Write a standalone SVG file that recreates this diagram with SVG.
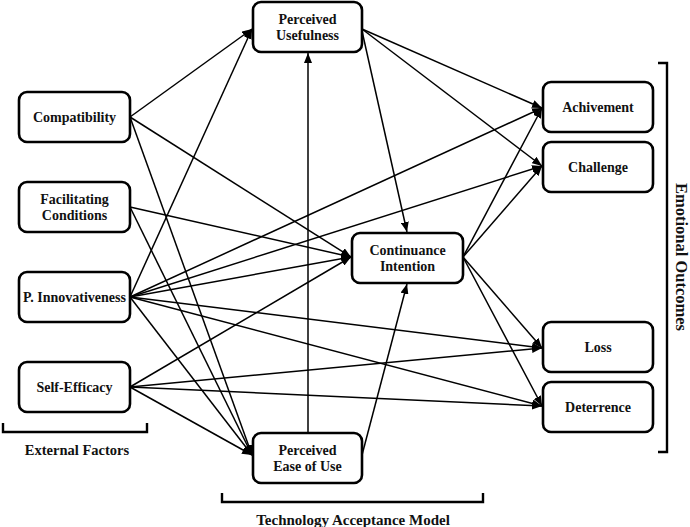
<svg xmlns="http://www.w3.org/2000/svg" width="690" height="527" viewBox="0 0 690 527">
<defs>
<style>
.box{fill:#fff;stroke:#000;stroke-width:2.6}
.t{font-family:"Liberation Serif","Times New Roman",serif;font-weight:bold;font-size:14px;text-anchor:middle;dominant-baseline:central;fill:#111}
.lbl{font-family:"Liberation Serif","Times New Roman",serif;font-weight:bold;font-size:14.5px;text-anchor:middle;dominant-baseline:central;fill:#111}
.e{stroke:#000;stroke-width:1.5;fill:none;marker-end:url(#ah)}
.br{stroke:#000;stroke-width:2.4;fill:none}
</style>
<marker id="ah" viewBox="0 0 10 8" refX="10" refY="4" markerWidth="10" markerHeight="8" markerUnits="userSpaceOnUse" orient="auto"><path d="M0,0 L10,4 L0,8 z" fill="#000"/></marker>
</defs>
<rect width="690" height="527" fill="#fff"/>
<g id="connectors">
<line class="e" x1="130" y1="117" x2="252" y2="29"/>
<line class="e" x1="130" y1="117" x2="351" y2="257"/>
<line class="e" x1="130" y1="117" x2="252" y2="455"/>
<line class="e" x1="130" y1="207" x2="351" y2="257"/>
<line class="e" x1="130" y1="207" x2="252" y2="455"/>
<line class="e" x1="130" y1="297" x2="252" y2="29"/>
<line class="e" x1="130" y1="297" x2="542" y2="108"/>
<line class="e" x1="130" y1="297" x2="542" y2="166"/>
<line class="e" x1="130" y1="297" x2="351" y2="257"/>
<line class="e" x1="130" y1="297" x2="542" y2="348"/>
<line class="e" x1="130" y1="297" x2="542" y2="406"/>
<line class="e" x1="130" y1="297" x2="252" y2="455"/>
<line class="e" x1="130" y1="387" x2="351" y2="257"/>
<line class="e" x1="130" y1="387" x2="542" y2="348"/>
<line class="e" x1="130" y1="387" x2="542" y2="406"/>
<line class="e" x1="130" y1="387" x2="252" y2="455"/>
<line class="e" x1="362" y1="29" x2="542" y2="108"/>
<line class="e" x1="362" y1="29" x2="542" y2="166"/>
<line class="e" x1="362" y1="31" x2="407" y2="232"/>
<line class="e" x1="308" y1="433" x2="308" y2="53"/>
<line class="e" x1="362" y1="455" x2="407" y2="284"/>
<line class="e" x1="463" y1="257" x2="542" y2="108"/>
<line class="e" x1="463" y1="257" x2="542" y2="166"/>
<line class="e" x1="463" y1="257" x2="542" y2="348"/>
<line class="e" x1="463" y1="257" x2="542" y2="406"/>
</g>
<g id="compatibility"><rect class="box" x="19" y="92" width="111" height="50" rx="8"/><text class="t" x="74.5" y="117">Compatibility</text></g>
<g id="facilitating"><rect class="box" x="19" y="182" width="111" height="50" rx="8"/><text class="t" x="74.5" y="199">Facilitating</text><text class="t" x="74.5" y="215">Conditions</text></g>
<g id="innovativeness"><rect class="box" x="19" y="272" width="111" height="50" rx="8"/><text class="t" x="74.5" y="297">P. Innovativeness</text></g>
<g id="selfefficacy"><rect class="box" x="19" y="362" width="111" height="50" rx="8"/><text class="t" x="74.5" y="387">Self-Efficacy</text></g>
<g id="pu"><rect class="box" x="253" y="2" width="109" height="50" rx="8"/><text class="t" x="307.5" y="19">Perceived</text><text class="t" x="307.5" y="35">Usefulness</text></g>
<g id="peou"><rect class="box" x="253" y="433" width="109" height="50" rx="8"/><text class="t" x="307.5" y="450">Perceived</text><text class="t" x="307.5" y="466">Ease of Use</text></g>
<g id="ci"><rect class="box" x="352" y="233" width="111" height="50" rx="8"/><text class="t" x="407.5" y="250">Continuance</text><text class="t" x="407.5" y="266">Intention</text></g>
<g id="achivement"><rect class="box" x="543" y="82" width="110" height="50" rx="8"/><text class="t" x="598" y="107">Achivement</text></g>
<g id="challenge"><rect class="box" x="543" y="142" width="110" height="50" rx="8"/><text class="t" x="598" y="167">Challenge</text></g>
<g id="loss"><rect class="box" x="543" y="322" width="110" height="50" rx="8"/><text class="t" x="598" y="347">Loss</text></g>
<g id="deterrence"><rect class="box" x="543" y="382" width="110" height="50" rx="8"/><text class="t" x="598" y="407">Deterrence</text></g>
<g id="brackets">
<path class="br" d="M3,423 V432 H147 V423"/>
<text class="lbl" x="77" y="450">External Factors</text>
<path class="br" d="M222,493 V502 H483 V493"/>
<text class="lbl" x="353" y="520" style="font-size:15px">Technology Acceptance Model</text>
<path class="br" d="M658,63 H667 V452 H658"/>
<text class="lbl" x="681" y="257" transform="rotate(90 681 257)" style="font-size:16.5px">Emotional Outcomes</text>
</g>
</svg>
